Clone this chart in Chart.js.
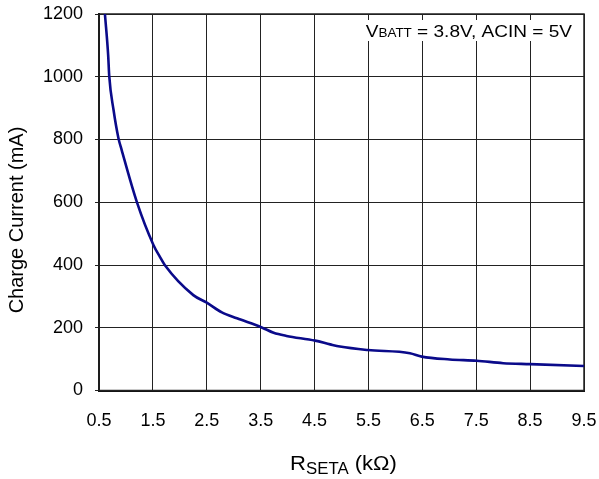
<!DOCTYPE html>
<html>
<head>
<meta charset="utf-8">
<script src="https://cdn.jsdelivr.net/npm/chart.js@4/dist/chart.umd.min.js"></script>
<style>
  body { margin: 0; background: #fff; }
  canvas { display: block; }
</style>
</head>
<body>
<canvas id="chart" width="599" height="479"></canvas>
<script>
// R_SETA (kOhm) vs charge current (mA)
const rSeta = [0.61, 0.67, 0.69, 0.77, 0.86, 0.92, 1.20, 1.51, 1.63, 1.72, 2.25, 2.50, 2.78, 3.06, 3.52, 3.74, 3.98, 4.51, 4.79, 4.97, 5.49, 6.27, 6.49, 7.01, 7.51, 8.00, 8.50, 9.50];
const chargeCurrent = [1200, 1069, 1002, 894, 805, 767, 602, 464, 426, 400, 304, 280, 249, 230, 201, 184, 174, 159, 147, 140, 129, 119, 108, 99, 95, 87, 84, 78];
const xTicks = [0.5, 1.5, 2.5, 3.5, 4.5, 5.5, 6.5, 7.5, 8.5, 9.5];
const yTicks = [0, 200, 400, 600, 800, 1000, 1200];

const FONT = "'Liberation Sans', Arial, sans-serif";

// draws text pieces in a row, slightly widened like the original
function drawRow(ctx, parts, x, y, stretch) {
    ctx.save();
    ctx.translate(x, y);
    ctx.scale(stretch, 1);
    let cx = 0;
    parts.forEach(p => {
        ctx.font = p.f;
        ctx.fillText(p.t, cx, p.dy || 0);
        cx += ctx.measureText(p.t).width;
    });
    ctx.restore();
}

function rowWidth(ctx, parts, stretch) {
    let w = 0;
    parts.forEach(p => { ctx.font = p.f; w += ctx.measureText(p.t).width; });
    return w * stretch;
}

// titles + condition note, drawn by hand so the subscripts come out right
const textPlugin = {
    id: 'texts',
    afterDraw(chart) {
        const ctx = chart.ctx;
        const area = chart.chartArea;
        ctx.save();
        ctx.fillStyle = '#000';
        ctx.textAlign = 'left';
        ctx.textBaseline = 'alphabetic';

        // y title
        ctx.save();
        ctx.translate(17, 220);
        ctx.rotate(-Math.PI / 2);
        ctx.font = '20px ' + FONT;
        ctx.textAlign = 'center';
        ctx.textBaseline = 'middle';
        ctx.fillText('Charge Current (mA)', 0, 0);
        ctx.restore();

        // x title: R_SETA (kΩ)
        const xt = [
            { t: 'R', f: '21px ' + FONT },
            { t: 'SETA', f: '16px ' + FONT, dy: 4 },
            { t: ' (k\u03A9)', f: '21px ' + FONT }
        ];
        const xw = rowWidth(ctx, xt, 1.05);
        drawRow(ctx, xt, (area.left + area.right) / 2 + 2 - xw / 2, 470, 1.05);

        // condition note, top right, on a white patch over the grid
        const note = [
            { t: 'V', f: '17px ' + FONT },
            { t: 'BATT', f: '12px ' + FONT },
            { t: ' = 3.8V, ACIN = 5V', f: '17px ' + FONT }
        ];
        const nw = rowWidth(ctx, note, 1.12);
        const right = 572;
        ctx.fillStyle = '#fff';
        ctx.fillRect(right - nw - 5, 20, nw + 10, 21);
        ctx.fillStyle = '#000';
        drawRow(ctx, note, right - nw, 36.5, 1.12);

        ctx.restore();
    }
};

new Chart(document.getElementById('chart'), {
    type: 'line',
    data: {
        datasets: [{
            data: rSeta.map((r, i) => ({ x: r, y: chargeCurrent[i] })),
            borderColor: '#0a0a8a',
            borderWidth: 2.6,
            pointRadius: 0,
            tension: 0.3,
            cubicInterpolationMode: 'monotone',
            fill: false
        }]
    },
    options: {
        responsive: false,
        animation: false,
        layout: { padding: { top: 14, right: 15, left: 0, bottom: 0 } },
        plugins: {
            legend: { display: false },
            tooltip: { enabled: false }
        },
        scales: {
            x: {
                type: 'linear',
                min: 0.5,
                max: 9.5,
                afterBuildTicks: s => { s.ticks = xTicks.map(v => ({ value: v })); },
                afterFit: s => { s.height = 88.5; s.paddingLeft = 0; s.paddingRight = 0; },
                ticks: {
                    font: { family: FONT, size: 18 },
                    color: '#000',
                    padding: 20,
                    maxRotation: 0,
                    callback: v => v.toFixed(1)
                },
                grid: { color: '#222', lineWidth: 1, drawTicks: false },
                border: { color: '#111', width: 2 }
            },
            y: {
                min: 0,
                max: 1200,
                afterBuildTicks: s => { s.ticks = yTicks.map(v => ({ value: v })); },
                afterFit: s => { s.width = 99; s.paddingTop = 0; s.paddingBottom = 0; },
                ticks: {
                    font: { family: FONT, size: 18 },
                    color: '#000',
                    padding: 12,
                    callback: v => String(v)
                },
                grid: { color: '#222', lineWidth: 1, tickLength: 4 },
                border: { color: '#111', width: 2 }
            }
        }
    },
    plugins: [textPlugin, {
        id: 'frame',
        beforeDatasetsDraw(chart) {
            const a = chart.chartArea;
            const ctx = chart.ctx;
            ctx.save();
            ctx.strokeStyle = '#222';
            ctx.lineWidth = 1.5;
            ctx.strokeRect(a.left, a.top, a.right - a.left, a.bottom - a.top);
            ctx.restore();
        }
    }]
});
</script>
</body>
</html>
